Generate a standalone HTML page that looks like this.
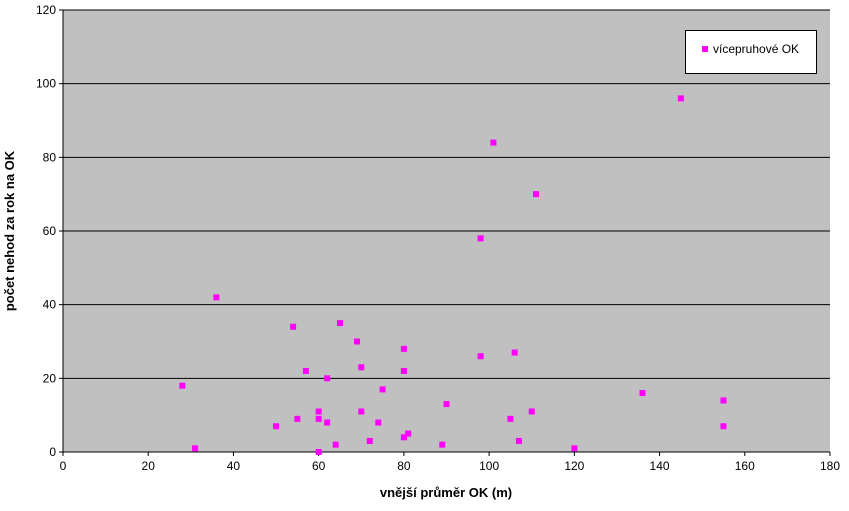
<!DOCTYPE html>
<html><head><meta charset="utf-8"><style>
body{margin:0;background:#fff;font-family:"Liberation Sans",Arial,sans-serif;}
</style></head><body>
<svg width="849" height="506" xmlns="http://www.w3.org/2000/svg" font-family="Liberation Sans, Arial, sans-serif">
<g id="chart"></g>
</svg>
<script>
const xVals=[28,31,36,50,54,55,57,60,60,60,62,62,64,65,69,70,70,72,74,75,80,80,80,81,89,90,98,98,101,105,106,107,110,111,120,136,145,155,155];
const yVals=[18,1,42,7,34,9,22,11,9,0,20,8,2,35,30,23,11,3,8,17,28,22,4,5,2,13,58,26,84,9,27,3,11,70,1,16,96,14,7];
const xTicks=[0,20,40,60,80,100,120,140,160,180];
const yTicks=[0,20,40,60,80,100,120];
const L=63,R=830,T=10,B=452;
const sx=v=>L+(v/180)*(R-L);
const sy=v=>B-(v/120)*(B-T);
const NS="http://www.w3.org/2000/svg";
const g=document.getElementById('chart');
function mk(t,a){const e=document.createElementNS(NS,t);for(const k in a)e.setAttribute(k,a[k]);g.appendChild(e);return e;}
let bg=mk('rect',{x:L,y:T,width:R-L,height:B-T,fill:'#c0c0c0'});


yTicks.forEach(t=>{
  if(t>0){let l=mk('line',{x1:L,x2:R,y1:sy(t),y2:sy(t),stroke:'#000','stroke-width':1});
  
  }
  let tk=mk('line',{x1:L-4,x2:L,y1:sy(t),y2:sy(t),stroke:'#000'});
  
  
  let tx=mk('text',{x:L-7,y:sy(t)+4,'text-anchor':'end','font-size':12});
  tx.textContent=t;
  
  
});
xTicks.forEach(t=>{
  let tk=mk('line',{x1:sx(t),x2:sx(t),y1:B,y2:B+4,stroke:'#000'});
  
  
  let tx=mk('text',{x:sx(t),y:B+18,'text-anchor':'middle','font-size':12});
  tx.textContent=t;
  
  
});
let ax=mk('line',{x1:L,x2:R,y1:B,y2:B,stroke:'#000'});


let ay=mk('line',{x1:L,x2:L,y1:T,y2:B,stroke:'#000'});


xVals.forEach((v,i)=>{
  let p=mk('rect',{x:sx(v)-3,y:sy(yVals[i])-3,width:6,height:6,fill:'#ff00ff'});
  
  
});
let xt=mk('text',{x:446,y:497,'text-anchor':'middle','font-size':13,'font-weight':'bold'});
xt.textContent='vnější průměr OK (m)';


let yt=mk('text',{x:14,y:231,'text-anchor':'middle','font-size':13,'font-weight':'bold',transform:'rotate(-90 14 231)'});
yt.textContent='počet nehod za rok na OK';


let lb=mk('rect',{x:685.5,y:30.5,width:131,height:43,fill:'#fff',stroke:'#000'});


let lm=mk('rect',{x:702,y:46,width:6,height:6,fill:'#ff00ff'});


let lt=mk('text',{x:713,y:53,'font-size':12});
lt.textContent='vícepruhové OK';


</script>
</body></html>
